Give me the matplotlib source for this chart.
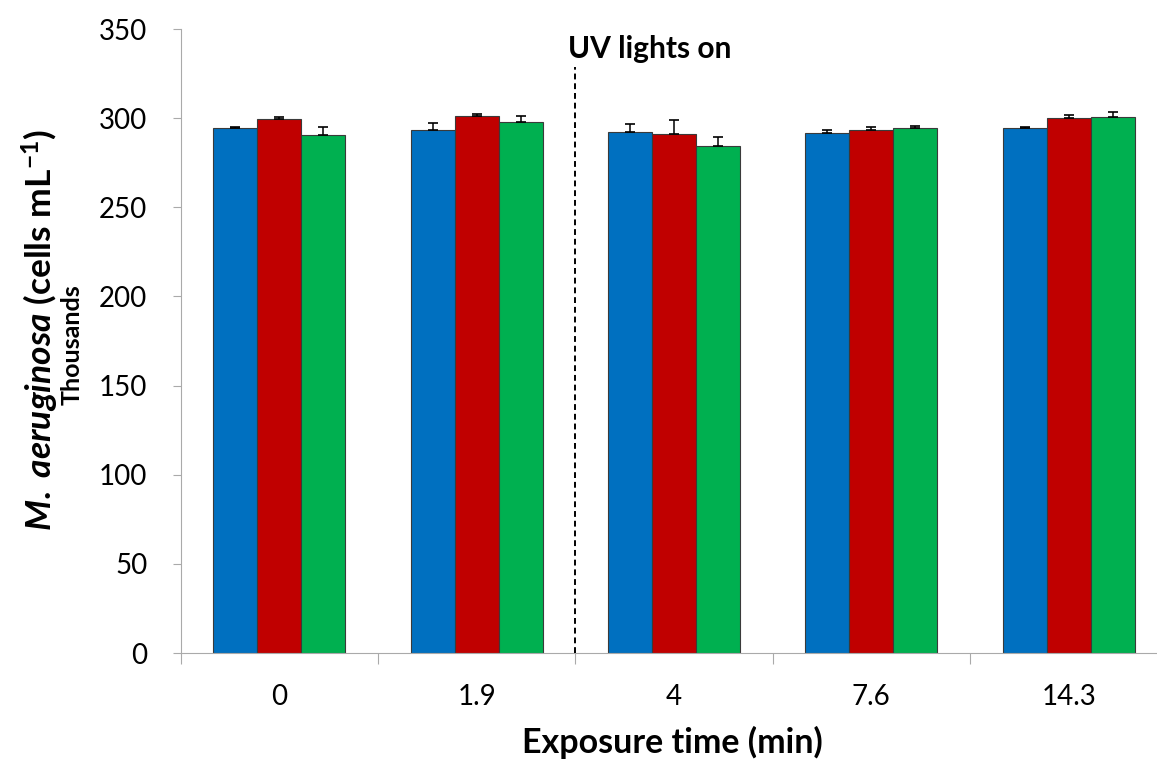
import numpy as np
import matplotlib
matplotlib.use('Agg')
import matplotlib.pyplot as plt

# Cell counts (thousands of cells per mL) for three replicates per exposure time
times = ['0', '1.9', '4', '7.6', '14.3']
rep_a = [294.7, 293.4, 292.1, 291.5, 294.3]
rep_b = [299.4, 301.1, 291.2, 293.4, 299.9]
rep_c = [290.4, 297.7, 284.3, 294.3, 300.5]
err_a = [0.5, 3.7, 4.6, 2.1, 0.6]
err_b = [1.5, 1.3, 7.8, 1.7, 2.0]
err_c = [4.8, 3.5, 5.3, 1.1, 3.0]

colors = ['#0070C0', '#C00000', '#00B050']

plt.rcParams['font.family'] = ['Lato', 'DejaVu Sans']
plt.rcParams['mathtext.fontset'] = 'custom'
plt.rcParams['mathtext.rm'] = 'Lato:bold'
plt.rcParams['mathtext.it'] = 'Lato:italic:bold'
plt.rcParams['mathtext.bf'] = 'Lato:bold'

fig = plt.figure(figsize=(11.57, 7.6), dpi=100)
ax = fig.add_axes([180.7/1157, 107/760, 1 - 180.7/1157, (653-29)/760])

x = np.arange(len(times))
w = 0.223
for i, (vals, errs) in enumerate(zip([rep_a, rep_b, rep_c], [err_a, err_b, err_c])):
    ax.bar(x + (i - 1)*w, vals, width=w, color=colors[i], edgecolor='#3a3a3a', linewidth=0.8, zorder=2)
    ax.errorbar(x + (i - 1)*w, vals, yerr=[np.zeros(len(errs)), errs], fmt='none',
                ecolor='black', elinewidth=1.1, capsize=3.5, capthick=1.2, zorder=3)

# UV switched on between 1.9 and 4 min
ax.plot([1.5, 1.5], [0, 328.5], color='black', linestyle=(0, (3, 2)), linewidth=1.4, zorder=4)
ax.text(1.463, 333.7, 'UV lights on', fontsize=21.5, fontweight='bold', ha='left', va='baseline')

ax.set_xlim(-0.5, 4.448)
ax.set_ylim(0, 350)
ax.set_yticks(np.arange(0, 351, 50))
ax.tick_params(axis='y', direction='out', length=6, width=0.8, color='#aaaaaa', labelsize=20, pad=18)

# category boundaries get the ticks, labels sit at the centres
ax.set_xticks(np.arange(-0.5, 4.5, 1))
ax.set_xticklabels([])
ax.set_xticks(x, minor=True)
ax.set_xticklabels(times, minor=True)
ax.tick_params(axis='x', which='major', direction='out', length=8, width=0.8, color='#aaaaaa')
ax.tick_params(axis='x', which='minor', length=0, labelsize=20, pad=22)

for s in ['top', 'right']:
    ax.spines[s].set_visible(False)
for s in ['left', 'bottom']:
    ax.spines[s].set_color('#aaaaaa')
    ax.spines[s].set_linewidth(0.8)

fig.text(40/1157, 1 - 330/760, r'$\mathit{M.}$ $\mathit{aeruginosa}$ (cells mL$^{-1}$)', rotation=90,
         fontsize=25.5, fontweight='bold', ha='center', va='center')
fig.text(72/1157, 1 - 345/760, 'Thousands', rotation=90, fontsize=18, fontweight='bold',
         ha='center', va='center')
fig.text(672.5/1157, 1 - 742/760, 'Exposure time (min)', fontsize=24.5, fontweight='bold',
         ha='center', va='center')

fig.savefig('out.png', dpi=100)
